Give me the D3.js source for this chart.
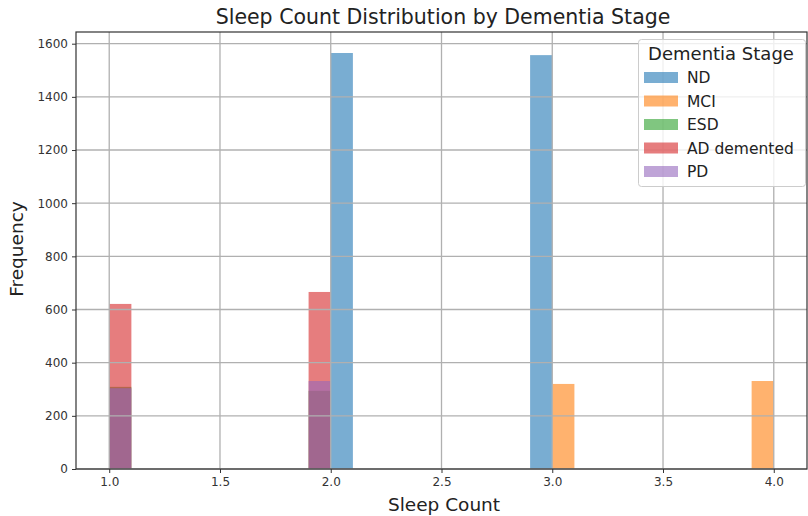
<!DOCTYPE html>
<html><head><meta charset="utf-8">
<script src="https://cdn.jsdelivr.net/npm/d3@7"></script>
<style>body{margin:0;background:#fff}svg{font-family:"DejaVu Sans",sans-serif}</style>
</head><body><svg id="c" width="808" height="516"></svg>
<script>
const stages = ["ND","MCI","ESD","AD demented","PD"];
const colors = ["#1f77b4","#ff7f0e","#2ca02c","#d62728","#9467bd"];
const binWidth = 0.1;
const ndBins = [2.0, 2.9], ndCounts = [1565, 1557];
const mciBins = [3.0, 3.9], mciCounts = [320, 331];
const esdBins = [1.0, 1.9], esdCounts = [309, 294];
const adBins = [1.0, 1.9], adCounts = [621, 666];
const pdBins = [1.0, 1.9], pdCounts = [304, 331];
const xTicks = [1.0,1.5,2.0,2.5,3.0,3.5,4.0];
const yTicks = [0,200,400,600,800,1000,1200,1400,1600];
const seriesBins = [ndBins, mciBins, esdBins, adBins, pdBins];
const seriesCounts = [ndCounts, mciCounts, esdCounts, adCounts, pdCounts];

const svg = d3.select("#c");
const L=76, R=807, T=32, B=469;
const x = d3.scaleLinear().domain([0.85,4.15]).range([L,R]);
const y = d3.scaleLinear().domain([0,1644]).range([B,T]);

// bars
stages.forEach((s,i)=>{
  const data = seriesBins[i].map((b,j)=>({b, c: seriesCounts[i][j]}));
  svg.append("g").selectAll("rect").data(data).join("rect")
    .attr("x", d=>x(d.b)).attr("width", d=>x(d.b+binWidth)-x(d.b))
    .attr("y", d=>y(d.c)).attr("height", d=>y(0)-y(d.c))
    .attr("fill", colors[i]).attr("fill-opacity",0.6);
});

// grid
const g = svg.append("g");
g.selectAll(".vx").data(xTicks).join("line").attr("x1",d=>x(d)).attr("x2",d=>x(d))
  .attr("y1",T).attr("y2",B).attr("stroke","#b0b0b0").attr("stroke-width",1.3);
g.selectAll(".hy").data(yTicks).join("line").attr("y1",d=>y(d)).attr("y2",d=>y(d))
  .attr("x1",L).attr("x2",R).attr("stroke","#b0b0b0").attr("stroke-width",1.3);

// axes
const xa = svg.append("g").attr("transform",`translate(0,${B})`)
  .call(d3.axisBottom(x).tickValues(xTicks).tickFormat(d3.format(".1f")).tickSize(4).tickPadding(4));
const ya = svg.append("g").attr("transform",`translate(${L},0)`)
  .call(d3.axisLeft(y).tickValues(yTicks).tickSize(4).tickPadding(4).tickFormat(d=>d));
[xa,ya].forEach(a=>{a.selectAll("text").attr("font-size",12).attr("fill","#333").attr("font-family","DejaVu Sans");
  a.selectAll("line").attr("stroke","#333"); a.select(".domain").remove();});
// spines
svg.append("rect").attr("x",L).attr("y",T).attr("width",R-L).attr("height",B-T)
  .attr("fill","none").attr("stroke","#333").attr("stroke-width",1.2);

// title / labels
svg.append("text").attr("x",443).attr("y",24).attr("text-anchor","middle")
  .attr("font-size",20.5).attr("fill","#222").text("Sleep Count Distribution by Dementia Stage");
svg.append("text").attr("x",444).attr("y",511).attr("text-anchor","middle")
  .attr("font-size",18.5).attr("fill","#222").text("Sleep Count");
svg.append("text").attr("transform","translate(23,249) rotate(-90)").attr("text-anchor","middle")
  .attr("font-size",18.5).attr("fill","#222").text("Frequency");

// legend
const lg = svg.append("g");
lg.append("rect").attr("x",638.5).attr("y",39.5).attr("width",167).attr("height",147).attr("rx",3)
  .attr("fill","#fff").attr("fill-opacity",0.8).attr("stroke","#ccc");
lg.append("text").attr("x",721).attr("y",60).attr("text-anchor","middle").attr("font-size",18)
  .attr("fill","#222").text("Dementia Stage");
stages.forEach((s,i)=>{
  const yy = 77 + i*23.5;
  lg.append("rect").attr("x",644).attr("y",yy-5).attr("width",34).attr("height",11)
    .attr("fill",colors[i]).attr("fill-opacity",0.6);
  lg.append("text").attr("x",687).attr("y",yy+6).attr("font-size",15.5).attr("fill","#222").text(s);
});
</script></body></html>
